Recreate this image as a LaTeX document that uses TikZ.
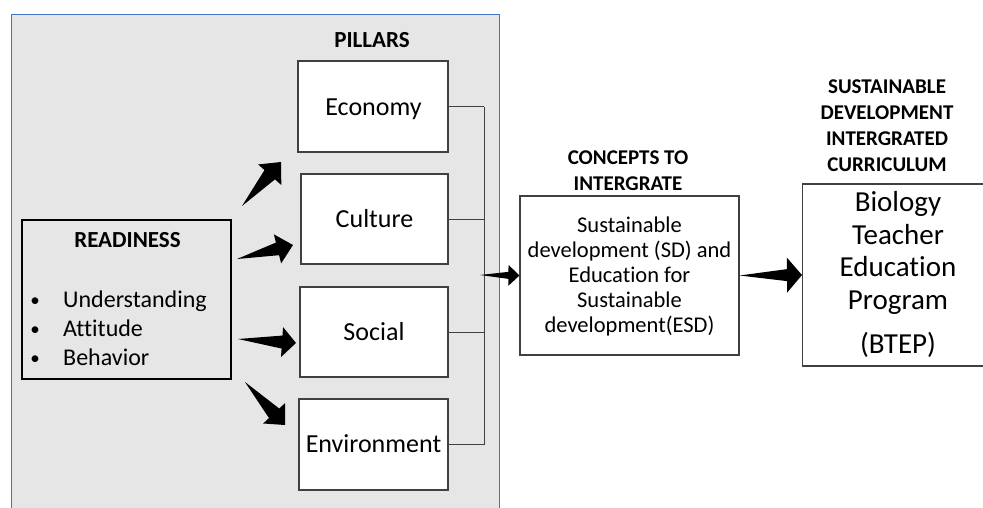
\documentclass[tikz,border=0pt]{standalone}
\usepackage{fontspec}
\setmainfont{Carlito}[Ligatures=NoCommon]
\usetikzlibrary{calc}
\definecolor{panel}{RGB}{230,230,230}
\definecolor{panelblue}{RGB}{68,114,196}
\definecolor{edge}{RGB}{64,64,64}
\newcommand{\fatarrow}[5]{%
  \path ($(#2)!#4!(#1)$) coordinate (fa-b);
  \fill[black] (#1) -- ($(fa-b)!#3!90:(#2)$) -- ($(fa-b)!#5!90:(#2)$) -- (#2)
    -- ($(fa-b)!#5!-90:(#2)$) -- ($(fa-b)!#3!-90:(#2)$) -- cycle;}
\begin{document}
\begin{tikzpicture}[x=1pt,y=-1pt,
  box/.style={draw=edge, line width=1.2pt, fill=white, inner sep=0pt},
  lbl/.style={anchor=base, inner sep=0pt},
  pil/.style={lbl, font=\fontsize{26}{30}\selectfont},
  hd/.style={lbl, font=\fontsize{21}{25}\selectfont\bfseries},
  body/.style={lbl, font=\fontsize{22.5}{26}\selectfont},
  big/.style={lbl, font=\fontsize{29}{33}\selectfont},
  itm/.style={anchor=base west, inner sep=0pt, font=\fontsize{24}{28}\selectfont},
  bul/.style={anchor=base, inner sep=0pt, font=\fontsize{19}{22}\selectfont},
  conn/.style={draw=edge, line width=1pt}]
\useasboundingbox (0,0) rectangle (983,507);
\clip (0,0) rectangle (983,507);
% panel
\draw[panelblue, fill=panel, line width=1pt] (11,14) rectangle (499,540);
% readiness
\node[box, draw=black, line width=1.4pt, minimum width=209pt, minimum height=159pt, fill=none] (ready) at (126.5,299.5) {};
\node[hd, font=\fontsize{23}{27}\selectfont\bfseries] (readyt) at (127.5,247.4) {READINESS};
\node[bul] (b1) at (35,306.5) {•};
\node[itm] (i1) at (63,307.7) {Understanding};
\node[bul] (b2) at (35,335.3) {•};
\node[itm] (i2) at (63,336.5) {Attitude};
\node[bul] (b3) at (35,364.1) {•};
\node[itm] (i3) at (63,365.3) {Behavior};
% pillars
\node[hd, font=\fontsize{23}{27}\selectfont\bfseries] (pilt) at (372,47.4) {PILLARS};
\node[box, minimum width=150pt, minimum height=91pt] (eco) at (373,106.5) {};
\node[box, minimum width=147pt, minimum height=90pt] (cul) at (374.5,219) {};
\node[box, minimum width=148pt, minimum height=90pt] (soc) at (374,332) {};
\node[box, minimum width=149pt, minimum height=91pt] (env) at (373.5,444.5) {};
\node[pil] (ecot) at (373.5,115) {Economy};
\node[pil] (cult) at (374.5,227.3) {Culture};
\node[pil] (soct) at (374,340) {Social};
\node[pil] (envt) at (373.5,452.3) {Environment};
% bus
\coordinate (bus) at (484,0);
\draw[conn] (eco.east) -- (eco.east -| bus);
\draw[conn] (cul.east) -- (cul.east -| bus);
\draw[conn] (soc.east) -- (soc.east -| bus);
\draw[conn] (env.east) -- (env.east -| bus);
\draw[conn] (eco.east -| bus) -- (env.east -| bus);
% concepts
\node[hd] (ct1) at (628,164.3) {CONCEPTS TO};
\node[hd] (ct2) at (628,190) {INTERGRATE};
\node[box, minimum width=219pt, minimum height=159pt] (con) at (629.5,275.5) {};
\node[body] (c1) at (629.5,232.3) {Sustainable};
\node[body] (c2) at (629.5,257.4) {development (SD) and};
\node[body] (c3) at (629.5,282.5) {Education for};
\node[body] (c4) at (629.5,307.6) {Sustainable};
\node[body] (c5) at (629.5,332.7) {development(ESD)};
% curriculum
\node[hd] (s1) at (887,93.3) {SUSTAINABLE};
\node[hd] (s2) at (887,119.5) {DEVELOPMENT};
\node[hd] (s3) at (887,145.7) {INTERGRATED};
\node[hd] (s4) at (887,171.7) {CURRICULUM};
\node[box, minimum width=230pt, minimum height=182pt, anchor=west] (btep) at (802,275) {};
\node[big] (t1) at (898,211.7) {Biology};
\node[big] (t2) at (898,244.3) {Teacher};
\node[big] (t3) at (898,276.9) {Education};
\node[big] (t4) at (898,309.5) {Program};
\node[big] (t5) at (898,353.3) {(BTEP)};
% fat arrows
\coordinate (a1s) at (242,206); \coordinate (a1e) at (281,162);
\coordinate (a2s) at (237,259); \coordinate (a2e) at (293,245);
\coordinate (a3s) at (238,339); \coordinate (a3e) at (296,343);
\coordinate (a4s) at (245,382); \coordinate (a4e) at (285,425);
\coordinate (a5s) at (480,275); \coordinate (a5e) at (con.west);
\coordinate (a6s) at (con.east); \coordinate (a6e) at (btep.west);
\fatarrow{a1s}{a1e}{7pt}{17pt}{15.5pt}
\fatarrow{a2s}{a2e}{6.5pt}{16pt}{15pt}
\fatarrow{a3s}{a3e}{6.5pt}{14pt}{15pt}
\fatarrow{a4s}{a4e}{7pt}{16pt}{15pt}
\fatarrow{a5s}{a5e}{3.5pt}{11pt}{10.5pt}
\fatarrow{a6s}{a6e}{6pt}{15pt}{17.5pt}
\end{tikzpicture}
\end{document}
